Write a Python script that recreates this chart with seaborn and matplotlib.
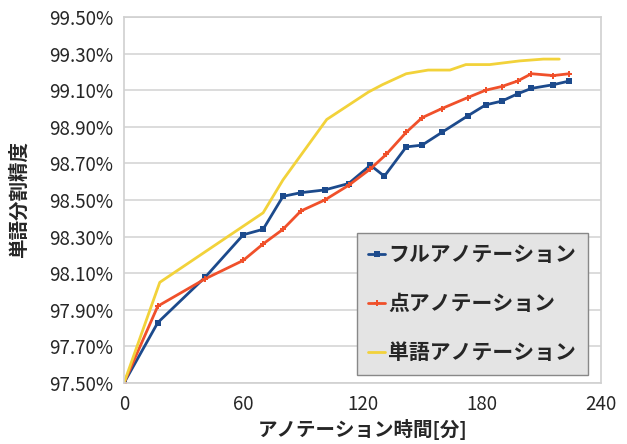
import matplotlib
matplotlib.use("Agg")
import matplotlib.pyplot as plt
from matplotlib.ticker import FuncFormatter
import pandas as pd
import seaborn as sns

# ========== DATA ==========
full_x = [0, 17, 41, 60, 70, 80, 89, 101, 113, 124, 131, 142, 150, 160, 173, 182, 190, 198, 205, 216, 224]
full_y = [97.50, 97.83, 98.08, 98.31, 98.34, 98.52, 98.54, 98.555, 98.59, 98.69, 98.63, 98.79, 98.80,
          98.87, 98.96, 99.02, 99.04, 99.08, 99.11, 99.13, 99.15]

point_x = [0, 17, 41, 60, 70, 80, 89, 101, 113, 124, 132, 142, 150, 160, 173, 182, 190, 198, 205, 216, 224]
point_y = [97.50, 97.92, 98.07, 98.17, 98.26, 98.34, 98.44, 98.50, 98.58, 98.67, 98.75, 98.87, 98.95,
           99.00, 99.06, 99.10, 99.12, 99.15, 99.19, 99.18, 99.19]

word_x = [0, 18, 70, 80, 102, 123, 130, 142, 153, 164, 172, 184, 199, 211, 219]
word_y = [97.50, 98.05, 98.43, 98.61, 98.94, 99.09, 99.13, 99.19, 99.21, 99.21, 99.24, 99.24, 99.26,
          99.27, 99.27]

series_names = ["フルアノテーション", "点アノテーション", "単語アノテーション"]
x_ticks = [0, 60, 120, 180, 240]
y_ticks = [97.50, 97.70, 97.90, 98.10, 98.30, 98.50, 98.70, 98.90, 99.10, 99.30, 99.50]
# ==========================

df = pd.concat([
    pd.DataFrame({"time": full_x, "acc": full_y, "series": series_names[0]}),
    pd.DataFrame({"time": point_x, "acc": point_y, "series": series_names[1]}),
    pd.DataFrame({"time": word_x, "acc": word_y, "series": series_names[2]}),
])

sns.set_style("white")
plt.rcParams['font.family'] = ['Noto Sans CJK JP', 'DejaVu Sans']

colors = {series_names[0]: "#1c4a8c", series_names[1]: "#f0502a", series_names[2]: "#f2d23a"}
markers = {series_names[0]: "s", series_names[1]: "P", series_names[2]: ""}
sizes = {series_names[0]: 5, series_names[1]: 4.5, series_names[2]: 0}

fig = plt.figure(figsize=(6.27, 4.44), dpi=100)
ax = fig.add_axes([124 / 627, 1 - 383 / 444, (601 - 124) / 627, (383 - 17) / 444])

for name in series_names:
    d = df[df["series"] == name]
    sns.lineplot(data=d, x="time", y="acc", ax=ax, color=colors[name], linewidth=2,
                 marker=markers[name] if markers[name] else None, markersize=sizes[name],
                 markeredgewidth=0, label=name, estimator=None, sort=False)

ax.set_xlim(0, 240)
ax.set_ylim(97.50, 99.50)
ax.set_xticks(x_ticks)
ax.set_yticks(y_ticks)
ax.yaxis.set_major_formatter(FuncFormatter(lambda v, _: f"{v:.2f}%"))
ax.tick_params(axis="both", labelsize=13.5, length=5, color="#bbbbbb", direction="out", pad=3)
ax.grid(axis="y", color="#d9d9d9", linewidth=1.3)
for side in ["top", "right", "bottom", "left"]:
    ax.spines[side].set_color("#d0d0d0")
    ax.spines[side].set_linewidth(1.2)

ax.set_xlabel("アノテーション時間[分]", fontsize=14, fontweight="bold", labelpad=3)
ax.set_ylabel("単語分割精度", fontsize=14, fontweight="bold", labelpad=14)

leg = ax.legend(loc="lower right", bbox_to_anchor=(0.985, 0.005), frameon=True,
                fancybox=False, handlelength=0.8, handletextpad=0.15, labelspacing=1.35,
                borderpad=0.55, borderaxespad=0.3, prop={"weight": "bold", "size": 15})
leg.get_frame().set_facecolor("#e4e4e4")
leg.get_frame().set_edgecolor("#888888")
leg.get_frame().set_alpha(1)

fig.savefig("out.png", dpi=100)
